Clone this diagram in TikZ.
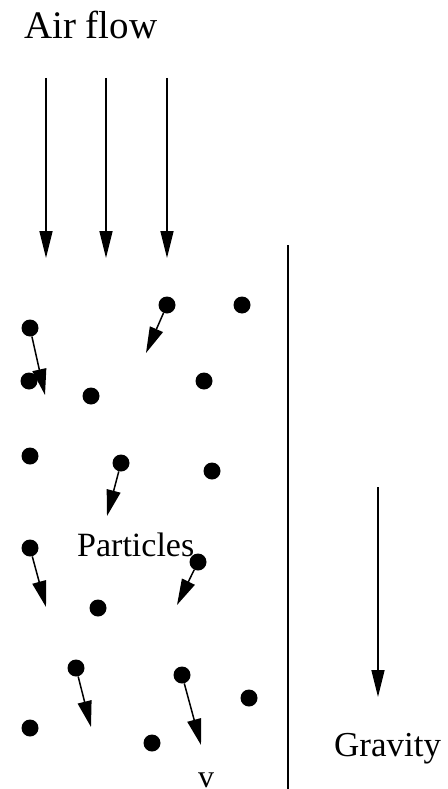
\documentclass[tikz,border=0pt]{standalone}
\usepackage{fontspec}
\setmainfont{Liberation Serif}
\usetikzlibrary{arrows.meta}

\begin{document}
\begin{tikzpicture}[
  x=1pt, y=-1pt,
  dot/.style={circle, fill=black, inner sep=0pt, minimum size=17pt},
  flow/.style={-{Triangle[length=27pt,width=13pt]}, line width=1.5pt},
  vel/.style={-{Triangle[length=26pt,width=14pt]}, line width=1.5pt},
  lbl/.style={inner sep=0pt, font=\fontsize{33}{40}\selectfont}
]
\useasboundingbox (0,0) rectangle (447,789);

% air flow
\node[lbl, anchor=base west, font=\fontsize{39}{46}\selectfont] (air) at (24,39) {Air flow};
\foreach \x [count=\i] in {46,106,167} {
  \coordinate (ftop\i) at (\x,78);
  \coordinate (ftip\i) at (\x,258);
  \draw[flow] (ftop\i) -- (ftip\i);
}

% wall
\coordinate (wtop) at (288,245);
\coordinate (wbot) at (288,789);
\draw[line width=1.5pt] (wtop) -- (wbot);

% gravity
\coordinate (gtop) at (378,487);
\coordinate (gtip) at (378,697);
\draw[flow] (gtop) -- (gtip);
\node[lbl, anchor=base west, font=\fontsize{35}{42}\selectfont] (grav) at (334,756) {Gravity};

% particles
\node[lbl, anchor=base west, font=\fontsize{34}{40}\selectfont] (part) at (77,556) {Particles};
\foreach \x/\y [count=\i] in {167/305, 242/305, 30/328, 29/381, 91/396, 204/381,
    30/456, 121/463, 212/471, 30/548, 198/562, 98/608, 76/668, 182/675,
    249/698, 30/728, 152/743}
  \node[dot] (p\i) at (\x,\y) {};

% velocities
\coordinate (v1) at (146,353);
\coordinate (v3) at (45,395);
\coordinate (v8) at (107,516);
\coordinate (v10) at (46,607);
\coordinate (v11) at (177,605);
\coordinate (v13) at (91,727);
\coordinate (v14) at (201,745);
\foreach \i in {1,3,8,10,11,13,14}
  \draw[vel] (p\i) -- (v\i);
\node[lbl, anchor=base, font=\fontsize{32}{38}\selectfont] (vlbl) at (206,787) {v};

\end{tikzpicture}
\end{document}
